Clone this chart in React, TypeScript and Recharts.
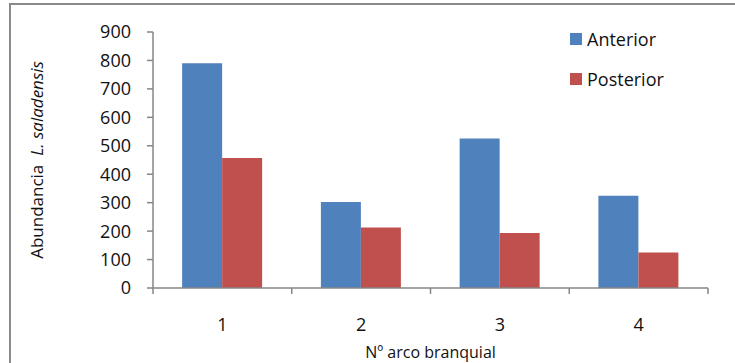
import { Bar, BarChart, XAxis, YAxis } from "recharts";

const arcos = ["1", "2", "3", "4"];
const anterior = [790, 302, 526, 324];
const posterior = [457, 213, 193, 125];
const yTicks = [0, 100, 200, 300, 400, 500, 600, 700, 800, 900];

const data = arcos.map((arco, i) => ({
  arco,
  Anterior: anterior[i],
  Posterior: posterior[i],
}));

const FONT = "'Open Sans', sans-serif";
const AXIS_GREY = "#868686";
const BLUE = "#4F81BD";
const RED = "#C0504D";

const CHART_W = 735;
const CHART_H = 363;
const MARGIN = { top: 32, right: 27, bottom: 25, left: 83 };
const Y_AXIS_W = 70;

// category ticks sit between the groups, labels stay centred under each group
function ArcoTick(props: any) {
  const { x, y, payload, index, visibleTicksCount } = props;
  const plotW = CHART_W - MARGIN.left - Y_AXIS_W - MARGIN.right;
  const half = payload?.offset || plotW / arcos.length / 2;
  const last = index === (visibleTicksCount ?? arcos.length) - 1;
  return (
    <g>
      <line x1={x - half} x2={x - half} y1={y} y2={y + 6} stroke={AXIS_GREY} strokeWidth={1.5} />
      {last && (
        <line x1={x + half} x2={x + half} y1={y} y2={y + 6} stroke={AXIS_GREY} strokeWidth={1.5} />
      )}
      <text x={x} y={y + 43} textAnchor="middle" fontSize={18} fontFamily={FONT} fill="#111">
        {payload.value}
      </text>
    </g>
  );
}

function YTitle(props: any) {
  const vb = props.viewBox || { x: 83, y: 32, width: 70, height: 256 };
  const cx = vb.x - 47;
  const cy = vb.y + vb.height / 2;
  return (
    <text
      x={cx}
      y={cy}
      transform={`rotate(-90 ${cx} ${cy})`}
      textAnchor="middle"
      dominantBaseline="central"
      fontSize={17}
      fontFamily={FONT}
      fill="#111"
      xmlSpace="preserve"
    >
      {"Abundancia  "}
      <tspan fontStyle="italic">L. saladensis</tspan>
    </text>
  );
}

function SeriesLegend() {
  const items = [
    { name: "Anterior", color: BLUE },
    { name: "Posterior", color: RED },
  ];
  return (
    <div
      style={{
        position: "absolute",
        left: 570,
        top: 19,
        fontFamily: FONT,
        fontSize: 18,
        color: "#111",
      }}
    >
      {items.map((it) => (
        <div key={it.name} style={{ display: "flex", alignItems: "center", height: 40 }}>
          <span style={{ width: 12, height: 12, background: it.color, marginRight: 5 }} />
          <span>{it.name}</span>
        </div>
      ))}
    </div>
  );
}

export default function App() {
  return (
    <div
      style={{
        position: "absolute",
        left: 0,
        top: 0,
        width: CHART_W,
        height: CHART_H,
        overflow: "hidden",
        background: "#fff",
      }}
    >
      <div
        style={{
          position: "absolute",
          left: 9,
          top: 3,
          width: 800,
          height: 400,
          borderTop: "2px solid #8a8a8a",
          borderLeft: "2px solid #8a8a8a",
        }}
      />
      <BarChart
        width={CHART_W}
        height={CHART_H}
        data={data}
        margin={MARGIN}
        barCategoryGap="21%"
        barGap={0}
        style={{ position: "absolute", left: 0, top: 0 }}
      >
        <XAxis
          dataKey="arco"
          height={50}
          axisLine={{ stroke: AXIS_GREY, strokeWidth: 1.5 }}
          tickLine={false}
          tickSize={0}
          tickMargin={0}
          interval={0}
          tick={<ArcoTick />}
          label={{
            value: "Nº arco branquial",
            position: "insideBottom",
            offset: -20,
            fontSize: 16,
            fontFamily: FONT,
            fill: "#111",
          }}
        />
        <YAxis
          width={Y_AXIS_W}
          domain={[0, 900]}
          ticks={yTicks}
          interval={0}
          axisLine={{ stroke: AXIS_GREY, strokeWidth: 1.5 }}
          tickLine={{ stroke: AXIS_GREY, strokeWidth: 1.5 }}
          tickSize={6}
          tickMargin={16}
          tick={{ fontSize: 18, fontFamily: FONT, fill: "#111" }}
          label={<YTitle />}
        />
        <Bar dataKey="Anterior" fill={BLUE} isAnimationActive={false} />
        <Bar dataKey="Posterior" fill={RED} isAnimationActive={false} />
      </BarChart>
      <SeriesLegend />
    </div>
  );
}
